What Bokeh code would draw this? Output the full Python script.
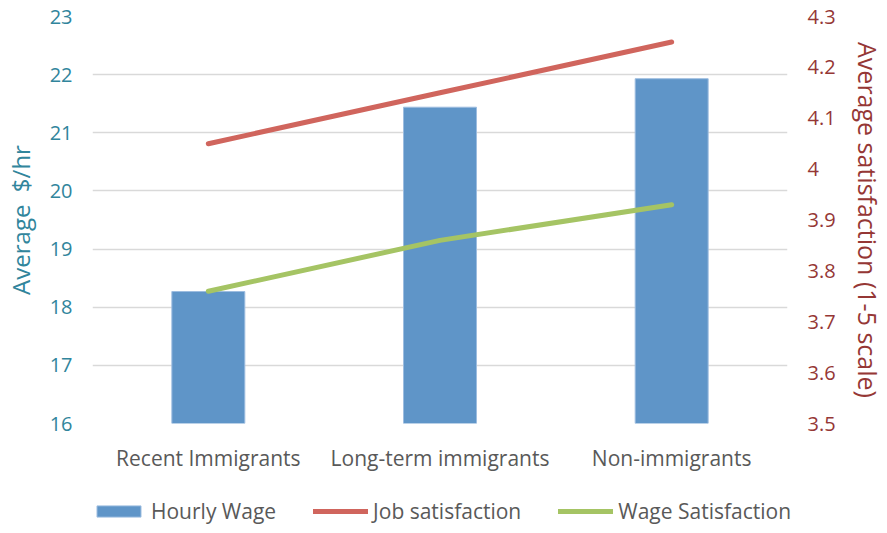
from bokeh.plotting import figure
from bokeh.layouts import column
from bokeh.models import (Range1d, FactorRange, LinearAxis, FixedTicker,
                          NumeralTickFormatter, Legend, LegendItem, ColumnDataSource)
from bokeh.embed import file_html
from bokeh.resources import INLINE

# --- data ---
categories = ["Recent Immigrants", "Long-term immigrants", "Non-immigrants"]
hourly_wage = [18.27, 21.44, 21.93]
job_satisfaction = [4.05, 4.15, 4.25]
wage_satisfaction = [3.76, 3.86, 3.93]
wage_ticks = [16, 17, 18, 19, 20, 21, 22, 23]
sat_ticks = [3.5, 3.6, 3.7, 3.8, 3.9, 4.0, 4.1, 4.2, 4.3]

FONT = "Open Sans"
TEAL = "#31859C"
DARK_RED = "#953735"
GREY_TEXT = "#595959"
BAR_BLUE = "#5F95C8"
LINE_RED = "#D0655D"
LINE_GREEN = "#A5C464"

src = ColumnDataSource(dict(cat=categories, wage=hourly_wage,
                            job=job_satisfaction, wsat=wage_satisfaction))


def add_series(fig):
    bars = fig.vbar(x="cat", top="wage", bottom=16, width=0.315, source=src,
                    fill_color=BAR_BLUE, line_color="#9DBDE0", line_width=1)
    job = fig.line(x="cat", y="job", source=src, y_range_name="sat",
                   line_color=LINE_RED, line_width=5, line_cap="round")
    wsat = fig.line(x="cat", y="wsat", source=src, y_range_name="sat",
                    line_color=LINE_GREEN, line_width=5, line_cap="round")
    return bars, job, wsat


# main chart
p = figure(width=887, height=483, x_range=FactorRange(*categories),
           y_range=Range1d(16, 23), output_backend="svg", toolbar_location=None,
           min_border_left=92, min_border_right=99, min_border_top=16,
           min_border_bottom=60)
p.extra_y_ranges = {"sat": Range1d(3.5, 4.3)}
p.outline_line_color = None
p.border_fill_color = "white"
add_series(p)

p.xgrid.grid_line_color = None
p.ygrid.grid_line_color = "#D9D9D9"
p.ygrid.grid_line_width = 1.5
p.ygrid.ticker = FixedTicker(ticks=wage_ticks)

la = p.yaxis[0]
la.ticker = FixedTicker(ticks=wage_ticks)
la.axis_line_color = None
la.major_tick_line_color = None
la.minor_tick_line_color = None
la.major_label_standoff = 14
la.major_label_text_font = FONT
la.major_label_text_font_size = "20px"
la.major_label_text_color = TEAL
la.axis_label = "Average\u00a0\u00a0$/hr"
la.axis_label_text_font = FONT
la.axis_label_text_font_size = "24px"
la.axis_label_text_font_style = "normal"
la.axis_label_text_color = TEAL
la.axis_label_text_line_height = 1.0
la.axis_label_standoff = 10

ra = LinearAxis(y_range_name="sat", ticker=FixedTicker(ticks=sat_ticks),
                formatter=NumeralTickFormatter(format="0.[0]"))
ra.axis_line_color = None
ra.major_tick_line_color = None
ra.minor_tick_line_color = None
ra.major_label_standoff = 14
ra.major_label_text_font = FONT
ra.major_label_text_font_size = "20px"
ra.major_label_text_color = DARK_RED
ra.axis_label = "Average satisfaction (1-5 scale)"
ra.axis_label_text_font = FONT
ra.axis_label_text_font_size = "25px"
ra.axis_label_text_font_style = "normal"
ra.axis_label_text_color = DARK_RED
ra.axis_label_text_line_height = 1.0
ra.axis_label_standoff = 12
p.add_layout(ra, "right")

xa = p.xaxis[0]
xa.axis_line_color = None
xa.major_tick_line_color = None
xa.minor_tick_line_color = None
xa.major_label_standoff = 14
xa.major_label_text_font = FONT
xa.major_label_text_font_size = "21px"
xa.major_label_text_color = GREY_TEXT

# legend strip: same series, drawn outside its visible y range so only the key shows
lf = figure(width=887, height=50, x_range=FactorRange(*categories),
            y_range=Range1d(100, 101), output_backend="svg", toolbar_location=None,
            x_axis_location=None, y_axis_location=None, min_border=0)
lf.frame_align = False
lf.extra_y_ranges = {"sat": Range1d(100, 101)}
lf.grid.grid_line_color = None
lf.outline_line_color = None
lb, lj, lw = add_series(lf)

legend = Legend(items=[LegendItem(label="Hourly Wage", renderers=[lb]),
                       LegendItem(label="Job satisfaction", renderers=[lj]),
                       LegendItem(label="Wage Satisfaction", renderers=[lw])],
                orientation="horizontal", location=(91, 8),
                glyph_width=55, glyph_height=14, label_standoff=5, spacing=37,
                padding=0, margin=0,
                label_text_font=FONT, label_text_font_size="21px",
                label_text_color=GREY_TEXT,
                border_line_color=None, background_fill_alpha=0)
lf.add_layout(legend)

open("out.html", "w").write(file_html(column(p, lf, spacing=0), INLINE))
